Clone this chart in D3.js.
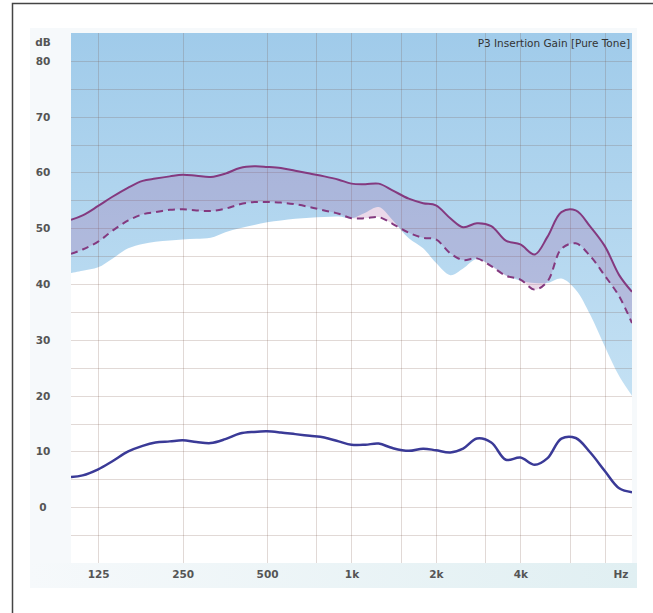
<!DOCTYPE html>
<html>
<head>
<meta charset="utf-8">
<script src="https://cdn.jsdelivr.net/npm/d3@7"></script>
<style>
  body { margin: 0; background: #fff; }
  svg { display: block; }
  text { font-family: "DejaVu Sans", Verdana, sans-serif; }
</style>
</head>
<body>
<div id="chart"></div>
<script>
// frequency points (Hz) shared by all curves
const freqs = [100, 110, 125, 140, 160, 180, 200, 225, 250, 280, 315, 355, 400, 450, 500, 560, 630, 710, 800, 900,
    1000, 1120, 1250, 1400, 1600, 1800, 2000, 2250, 2500, 2800, 3150, 3550, 4000, 4500, 5000, 5600, 6300, 7100, 8000, 9000, 10000];

// upper target (solid purple)
const upperGain = [51.5, 52.3, 54, 55.6, 57.3, 58.5, 58.9, 59.3, 59.6, 59.4, 59.2, 59.8, 60.8, 61.1, 61, 60.8, 60.3, 59.8, 59.3, 58.7,
    58, 57.9, 58, 56.8, 55.3, 54.5, 54.1, 51.8, 50.2, 50.9, 50.4, 47.8, 47.1, 45.3, 48.5, 52.9, 53.2, 50.3, 46.8, 41.6, 38.6];

// lower target (dashed purple)
const lowerGain = [45.4, 46.2, 47.6, 49.5, 51.4, 52.5, 52.9, 53.3, 53.4, 53.2, 53.1, 53.5, 54.3, 54.7, 54.7, 54.6, 54.3, 53.8, 53.2, 52.6,
    51.8, 51.8, 52, 50.8, 49.2, 48.3, 48, 45.5, 44.3, 44.6, 43.2, 41.5, 40.8, 39, 40.5, 46.3, 47.3, 45, 41.5, 37.8, 33];

// measured gain (blue)
const measuredGain = [5.4, 5.7, 6.8, 8.2, 10, 11, 11.6, 11.8, 12, 11.7, 11.5, 12.2, 13.2, 13.5, 13.6, 13.4, 13.1, 12.8, 12.5, 11.8,
    11.2, 11.2, 11.4, 10.6, 10.1, 10.5, 10.2, 9.8, 10.5, 12.3, 11.6, 8.5, 8.9, 7.6, 8.8, 12.3, 12.4, 9.8, 6.5, 3.4, 2.7];

// edge of the light blue region
const blueEdge = [42, 42.4, 43, 44.5, 46.4, 47.2, 47.6, 47.8, 48, 48.1, 48.3, 49.3, 50, 50.6, 51.1, 51.4, 51.7, 51.9, 52, 52.1,
    51.8, 52.8, 53.8, 51.5, 48.2, 46.4, 43.8, 41.6, 42.8, 44.5, 43.3, 41.6, 40.6, 40.2, 40.2, 41, 39, 34.5, 28.8, 23.5, 20];

const yTicks = [0, 10, 20, 30, 40, 50, 60, 70, 80];
const xTicks = [125, 250, 500, 1000, 2000, 4000];
const xTickLabels = ["125", "250", "500", "1k", "2k", "4k"];
const xGrid = [125, 250, 500, 750, 1000, 1500, 2000, 3000, 4000, 6000, 8000];
const title = "P3 Insertion Gain [Pure Tone]";

const width = 653, height = 613;
const plotL = 71, plotR = 632, plotT = 33, plotB = 563;

const svg = d3.select("#chart").append("svg")
    .attr("width", width)
    .attr("height", height);

const x = d3.scaleLog().domain([100, 10000]).range([plotL, plotR]);
const y = d3.scaleLinear().domain([-10, 85]).range([plotB, plotT]);

const defs = svg.append("defs");
const blueGrad = defs.append("linearGradient").attr("id", "blueGrad")
    .attr("gradientUnits", "userSpaceOnUse")
    .attr("x1", 0).attr("x2", 0).attr("y1", plotT).attr("y2", 420);
blueGrad.append("stop").attr("offset", 0).attr("stop-color", "#a0cbea");
blueGrad.append("stop").attr("offset", 1).attr("stop-color", "#c6e2f4");

const stripGrad = defs.append("linearGradient").attr("id", "stripGrad")
    .attr("x1", 0).attr("y1", 0).attr("x2", 1).attr("y2", 0);
stripGrad.append("stop").attr("offset", 0).attr("stop-color", "#f6f9fb");
stripGrad.append("stop").attr("offset", 1).attr("stop-color", "#e0eff2");

defs.append("clipPath").attr("id", "plotClip")
    .append("rect").attr("x", plotL).attr("y", plotT).attr("width", plotR - plotL).attr("height", plotB - plotT);

// outer frame
svg.append("path")
    .attr("d", "M12.5,613 V3.5 H653")
    .attr("fill", "none")
    .attr("stroke", "#444")
    .attr("stroke-width", 1.5);

// chart panel
svg.append("rect")
    .attr("x", 30).attr("y", 28).attr("width", 607).attr("height", 560)
    .attr("fill", "#f6f9fb");
svg.append("rect")
    .attr("x", 30).attr("y", plotB).attr("width", 607).attr("height", 25)
    .attr("fill", "url(#stripGrad)");
svg.append("rect")
    .attr("x", plotL).attr("y", plotT).attr("width", plotR - plotL).attr("height", plotB - plotT)
    .attr("fill", "#fff");

const plot = svg.append("g").attr("clip-path", "url(#plotClip)");

const rows = freqs.map((f, i) => ({
    f: f, up: upperGain[i], lo: lowerGain[i], meas: measuredGain[i], edge: blueEdge[i]
}));

const curve = d3.curveCatmullRom.alpha(0.5);

// blue region above the edge
plot.append("path")
    .datum(rows)
    .attr("fill", "url(#blueGrad)")
    .attr("d", d3.area().curve(curve)
        .x(d => x(d.f))
        .y0(y(85))
        .y1(d => y(d.edge)));

// grid
plot.append("g")
    .selectAll("line")
    .data(d3.range(-5, 85, 5))
    .join("line")
    .attr("x1", plotL).attr("x2", plotR)
    .attr("y1", d => Math.round(y(d)) + 0.5).attr("y2", d => Math.round(y(d)) + 0.5)
    .attr("stroke", "rgba(120,80,70,0.22)");

plot.append("g")
    .selectAll("line")
    .data(xGrid)
    .join("line")
    .attr("x1", d => Math.round(x(d)) + 0.5).attr("x2", d => Math.round(x(d)) + 0.5)
    .attr("y1", plotT).attr("y2", plotB)
    .attr("stroke", "rgba(120,80,70,0.22)");

// target band
plot.append("path")
    .datum(rows)
    .attr("fill", "#9b3f8f")
    .attr("fill-opacity", 0.2)
    .attr("d", d3.area().curve(curve)
        .x(d => x(d.f))
        .y0(d => y(d.lo))
        .y1(d => y(d.up)));

plot.append("path")
    .datum(rows)
    .attr("fill", "none")
    .attr("stroke", "#84397f")
    .attr("stroke-width", 2)
    .attr("d", d3.line().curve(curve).x(d => x(d.f)).y(d => y(d.up)));

plot.append("path")
    .datum(rows)
    .attr("fill", "none")
    .attr("stroke", "#84397f")
    .attr("stroke-width", 2)
    .attr("stroke-dasharray", "7,5")
    .attr("d", d3.line().curve(curve).x(d => x(d.f)).y(d => y(d.lo)));

plot.append("path")
    .datum(rows)
    .attr("fill", "none")
    .attr("stroke", "#3a3a97")
    .attr("stroke-width", 2.5)
    .attr("d", d3.line().curve(curve).x(d => x(d.f)).y(d => y(d.meas)));

// axes
const yAxis = svg.append("g")
    .attr("transform", "translate(43,0)")
    .call(d3.axisLeft(y).tickValues(yTicks).tickSize(0).tickPadding(0));
yAxis.select(".domain").remove();
yAxis.selectAll("text")
    .attr("text-anchor", "middle")
    .attr("x", 0)
    .attr("font-size", 10.5)
    .attr("font-family", "DejaVu Sans, sans-serif")
    .attr("font-weight", "bold")
    .attr("fill", "#555");

svg.append("text")
    .attr("x", 43).attr("y", 46)
    .attr("text-anchor", "middle")
    .attr("font-size", 10.5)
    .attr("font-weight", "bold")
    .attr("fill", "#555")
    .text("dB");

const xAxis = svg.append("g")
    .attr("transform", "translate(0,571)")
    .call(d3.axisBottom(x).tickValues(xTicks).tickSize(0).tickPadding(0)
        .tickFormat((d, i) => xTickLabels[i]));
xAxis.select(".domain").remove();
xAxis.selectAll("text")
    .attr("font-size", 10.5)
    .attr("font-family", "DejaVu Sans, sans-serif")
    .attr("font-weight", "bold")
    .attr("fill", "#555");

svg.append("text")
    .attr("x", 621).attr("y", 571)
    .attr("dy", "0.71em")
    .attr("text-anchor", "middle")
    .attr("font-size", 10.5)
    .attr("font-weight", "bold")
    .attr("fill", "#555")
    .text("Hz");

svg.append("text")
    .attr("x", 630).attr("y", 47)
    .attr("text-anchor", "end")
    .attr("font-size", 10.5)
    .attr("fill", "#333")
    .text(title);
</script>
</body>
</html>
